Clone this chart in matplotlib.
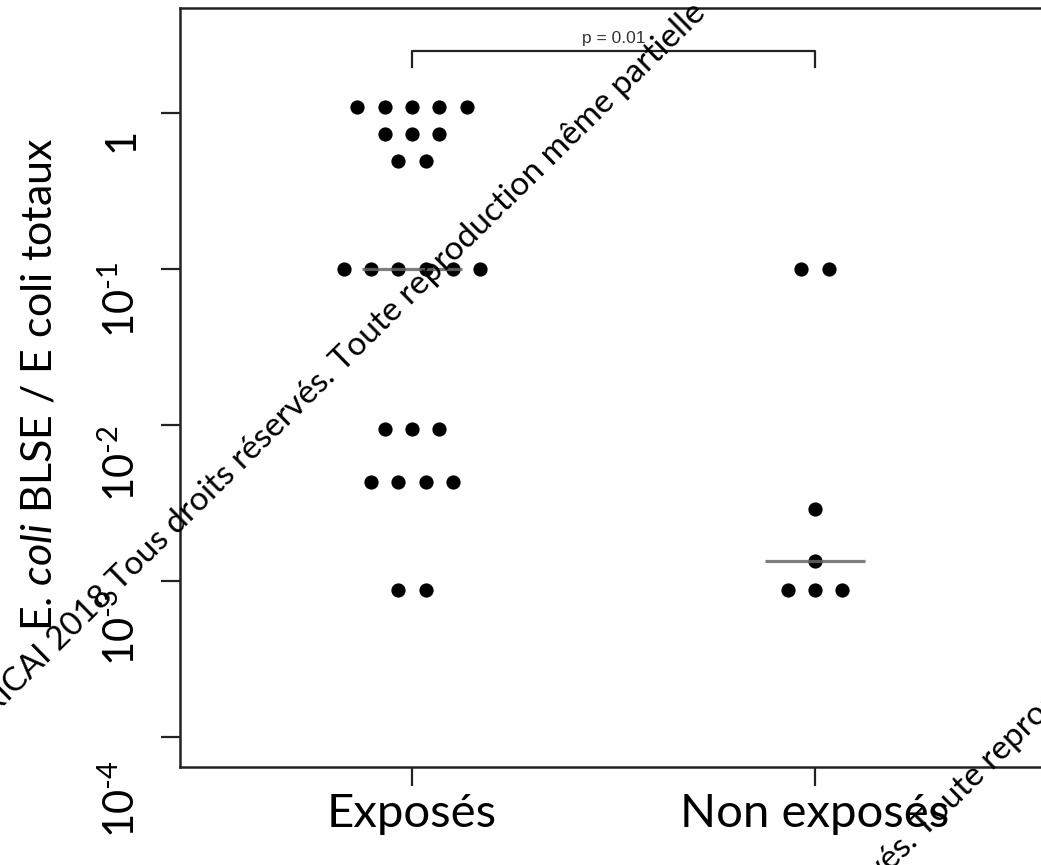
import numpy as np
import matplotlib
matplotlib.use("Agg")
import matplotlib.pyplot as plt
import matplotlib.ticker as mticker
import matplotlib.transforms as mtransforms

# data
groups = ["Exposés", "Non exposés"]
exposes = [1.1, 1.1, 1.1, 1.1, 1.1,
           0.73, 0.73, 0.73,
           0.49, 0.49,
           0.1, 0.1, 0.1, 0.1, 0.1, 0.1,
           0.0094, 0.0094, 0.0094,
           0.0043, 0.0043, 0.0043, 0.0043,
           0.00087, 0.00087]
non_exposes = [0.1, 0.1, 0.0029, 0.00135, 0.00087, 0.00087, 0.00087]
y_ticks = [1, 1e-1, 1e-2, 1e-3, 1e-4]
y_ticklabels = ["1", r"$10^{\text{-}1}$", r"$10^{\text{-}2}$",
                r"$10^{\text{-}3}$", r"$10^{\text{-}4}$"]
p_text = "p = 0.01"
# watermark, split where it is pinned on the picture
wm_main = ("RICAI 2018 ", "Tous droits réservés. Toute reproduction même partielle")
wm_corner = ("2018 Tous droits réservés. ", "Toute reproduction même partielle")

plt.rcParams['font.family'] = ['Lato', 'DejaVu Sans']
plt.rcParams['mathtext.fontset'] = 'custom'
plt.rcParams['mathtext.rm'] = 'Lato'
plt.rcParams['mathtext.it'] = 'Lato:italic'

W, H = 1041, 865
fig = plt.figure(figsize=(W/100, H/100), dpi=100)
ax = fig.add_axes([180/W, 98/H, 867/W, 759/H])

step = 0.0677  # horizontal spacing between dots of one row
for i, vals in enumerate([exposes, non_exposes]):
    vals = np.array(vals)
    xs = np.zeros(len(vals))
    for v in np.unique(vals):
        idx = np.where(vals == v)[0]
        xs[idx] = (np.arange(len(idx)) - (len(idx)-1)/2) * step
    ax.scatter(i + 1 + xs, vals, s=105, color='black', zorder=3, linewidths=0)
    med = np.median(vals)
    ax.plot([i + 1 - 0.125, i + 1 + 0.125], [med, med], color='#666666',
            lw=2.3, alpha=0.85, zorder=4, solid_capstyle='butt')

ax.set_yscale('log')
ax.set_xlim(1 - 232/403, 2 + 232/403)
ax.set_ylim(10**(-4.192), 10**0.673)

ax.set_xticks([1, 2])
ax.set_xticklabels(groups, fontsize=34)
ax.tick_params(axis='x', length=14, width=1.6, pad=5, color='#222222')
ax.set_yticks(y_ticks)
ax.set_yticklabels([""]*len(y_ticks))
ax.yaxis.set_minor_locator(mticker.NullLocator())
ax.tick_params(axis='y', length=14, width=1.6, color='#222222')

for side in ['left', 'bottom', 'top']:
    ax.spines[side].set_linewidth(1.8)
    ax.spines[side].set_color('#222222')
ax.spines['right'].set_visible(False)

# tick labels sit below their ticks in the original
label_shift = [0.17, 0.20, 0.25, 0.30, 0.40]
trans = mtransforms.blended_transform_factory(ax.transAxes, ax.transData)
for t, lab, sh in zip(y_ticks, y_ticklabels, label_shift):
    ax.text(-0.068, t * 10**(-sh), lab, transform=trans, rotation=90,
            ha='center', va='center', fontsize=30, clip_on=False)

fig.text(40/W, 1 - 384/H, r"E. $\mathit{coli}$ BLSE / E coli totaux",
         rotation=90, ha='center', va='center', fontsize=31)

# significance bracket
tb = mtransforms.blended_transform_factory(ax.transData, ax.transAxes)
ax.plot([1, 1, 2, 2], [0.922, 0.943, 0.943, 0.922], color='#222222', lw=1.6,
        transform=tb, clip_on=False)
ax.text(1.5, 0.950, p_text, transform=tb, ha='center', va='bottom',
        fontsize=12.5, color='#333333', family='Liberation Sans')

# black diagonal watermark
for (px, py), (left, right) in [((120, 592), wm_main), ((925, 838), wm_corner)]:
    fx, fy = px/W, 1 - py/H
    fig.text(fx, fy, left, rotation=44.5, rotation_mode='anchor', ha='right',
             va='baseline', fontsize=24, color='black', zorder=10)
    fig.text(fx, fy, right, rotation=44.5, rotation_mode='anchor', ha='left',
             va='baseline', fontsize=24, color='black', zorder=10)

fig.savefig("out.png", dpi=100)
